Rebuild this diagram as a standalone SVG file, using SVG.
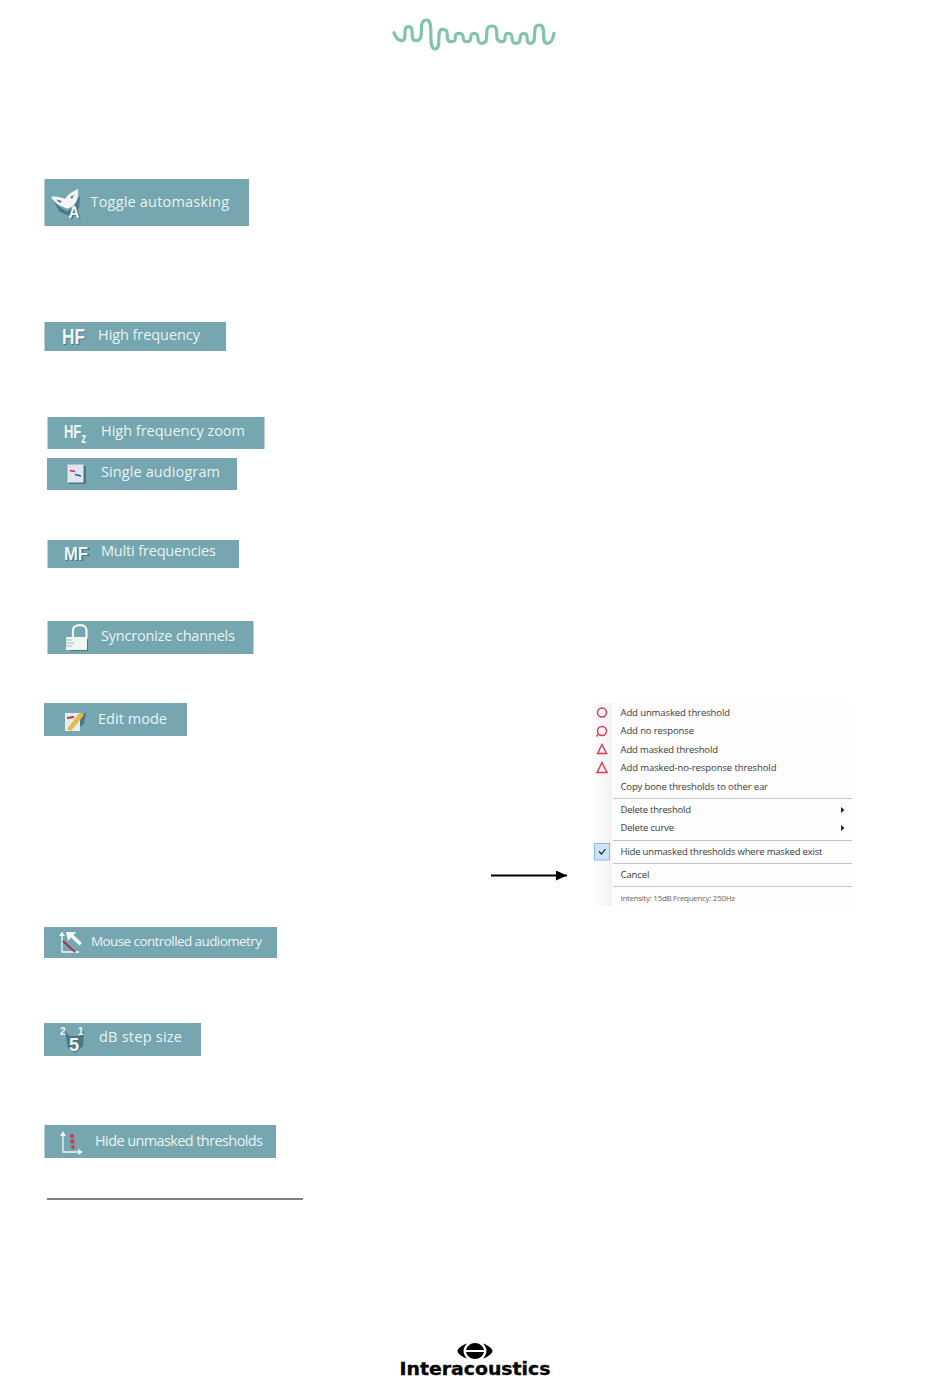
<svg xmlns="http://www.w3.org/2000/svg" width="950" height="1387" viewBox="0 0 950 1387">
<style>
.btn{fill:#76a6af}
.lbl{font-family:"Open Sans","Liberation Sans",sans-serif;font-size:14.5px;fill:#e9f3f3}
.ico{font-family:"Liberation Sans",sans-serif;font-weight:bold;fill:#eef5f5}
.shd{font-family:"Liberation Sans",sans-serif;font-weight:bold;fill:#4d7680}
.mi{font-family:"Open Sans","Liberation Sans",sans-serif;font-size:9.5px;fill:#3a3a3a}
.sep{stroke:#c4c4c4;stroke-width:1}
.red{fill:none;stroke:#e2334f;stroke-width:1.4}
.wht{fill:#f2f6f6}
.dk{fill:#4d7680}
.ax{fill:none;stroke:#f2f6f6;stroke-width:1.3}
</style>
<defs>
<marker id="ah" markerUnits="userSpaceOnUse" markerWidth="11" markerHeight="10" refX="11" refY="5" orient="auto"><path d="M0 0L11 5L0 10Z" fill="#000"/></marker>
<linearGradient id="strip" x1="0" x2="1" y1="0" y2="0"><stop offset="0" stop-color="#fcfcfc"/><stop offset="1" stop-color="#f2f2f2"/></linearGradient>
</defs>
<rect width="950" height="1387" fill="#fff"/>

<g id="logo-wave">
<path d="M394 32.700C396 38 398 40.700 401.700 40.700C408.300 40.700 401.700 26.700 408.300 26.700C416 26.700 408.300 40.700 416 40.700C426.700 40.700 416 20 426.700 20C435 20 426.700 49 435 49C442.700 49 435 29.300 442.700 29.300C451.700 29.300 442.700 41.700 451.700 41.700C459 41.700 451.700 33.300 459 33.300C467.300 33.300 459 41.700 467.300 41.700C474.300 41.700 467.300 33.300 474.300 33.300C481.700 33.300 474.300 43.300 481.700 43.300C491.700 43.300 481.700 26 491.700 26C501.700 26 491.700 41.700 501.700 41.700C508.300 41.700 501.700 33.300 508.300 33.300C516 33.300 508.300 43.300 516 43.300C524.300 43.300 516 33.300 524.300 33.300C530 33.300 524.300 43.300 530 43.300C539.300 43.300 530 25 539.300 25C547.700 25 539.300 43.300 547.700 43.300C551 43.300 553 39 554 33.300" fill="none" stroke="#83c2ad" stroke-width="3.200" stroke-linecap="round"/>
</g>

<g id="toggle-automasking">
<rect class="btn" x="44.500" y="179" width="204.500" height="47"/>
<path class="dk" d="M53 200L60 207L67 212L74 206L80 196L79 208L70 216L60 212Z"/>
<path class="wht" d="M51 197C55 196 60 197 65 199C68 194 73 191 78 189C79 195 77 202 73 206C69 209 66 209 64 207C59 206 54 202 51 197Z"/>
<path class="dk" d="M56 199.500L62 201L60 203ZM70 197L74 195L72 199Z"/>
<text class="shd" x="70" y="219" font-size="17" textLength="11" lengthAdjust="spacingAndGlyphs">A</text>
<text class="ico" x="68.500" y="218" font-size="17" textLength="11" lengthAdjust="spacingAndGlyphs">A</text>
<text class="lbl" x="90.500" y="206.500" textLength="138.500">Toggle automasking</text>
</g>

<g id="high-frequency">
<rect class="btn" x="44.500" y="322" width="181.500" height="29"/>
<text class="shd" x="63" y="345" font-size="22" textLength="23" lengthAdjust="spacingAndGlyphs">HF</text>
<text class="ico" x="62" y="344" font-size="22" textLength="23" lengthAdjust="spacingAndGlyphs">HF</text>
<text class="lbl" x="98" y="339.500" textLength="102">High frequency</text>
</g>

<g id="high-frequency-zoom">
<rect class="btn" x="47.500" y="417" width="217" height="32"/>
<text class="ico" transform="translate(64 438) scale(0.72 1)" font-size="18" font-weight="normal">HF<tspan dy="5" font-size="14" font-weight="bold">z</tspan></text>
<text class="lbl" x="101" y="436" textLength="144">High frequency zoom</text>
</g>

<g id="single-audiogram">
<rect class="btn" x="47" y="458" width="190" height="32"/>
<rect class="dk" x="69" y="466" width="17" height="18"/>
<rect x="67.500" y="464.500" width="16" height="18" fill="#dfe6ee"/>
<path d="M70 470.500L75 471.500" stroke="#c8323c" stroke-width="1.600"/>
<path d="M75 474.500L81 476" stroke="#2c55c0" stroke-width="1.600"/>
<text class="lbl" x="101" y="477" textLength="119">Single audiogram</text>
</g>

<g id="multi-frequencies">
<rect class="btn" x="47.500" y="540" width="191.500" height="28"/>
<text class="shd" x="65" y="561" font-size="19" textLength="25" lengthAdjust="spacingAndGlyphs">MF</text>
<text class="ico" x="64" y="560" font-size="19" textLength="24" lengthAdjust="spacingAndGlyphs">MF</text>
<text class="lbl" x="101" y="556" textLength="115">Multi frequencies</text>
</g>

<g id="syncronize-channels">
<rect class="btn" x="47.500" y="621" width="206" height="33"/>
<path d="M73 638V630C73 624 86 623 86.500 630V639" fill="none" stroke="#f2f6f6" stroke-width="2.200"/>
<rect class="dk" x="70" y="639" width="18" height="12"/>
<rect class="wht" x="66" y="637" width="21" height="13"/>
<path d="M66 640H72M66 643H74M66 646H72" stroke="#9fbcc2"/>
<text class="lbl" x="101" y="641" textLength="134">Syncronize channels</text>
</g>

<g id="edit-mode">
<rect class="btn" x="44" y="703" width="143" height="33"/>
<path class="dk" d="M78 715L86 713L84 724L74 731H68V716Z"/>
<rect x="65" y="713" width="15" height="18" fill="#e8ecef"/>
<path d="M67 718L74 717" stroke="#c8323c" stroke-width="1.800"/>
<path d="M67 729L80 712L84 715L71 731Z" fill="#e6b94f"/>
<text class="lbl" x="98" y="724" textLength="69">Edit mode</text>
</g>

<g id="context-menu">
<rect x="595" y="703" width="257" height="203" fill="#fdfdfd"/>
<rect x="595" y="703" width="17" height="203" fill="url(#strip)"/>
<circle class="red" cx="602" cy="712.500" r="4.500"/>
<circle class="red" cx="602" cy="731" r="4.500"/>
<path class="red" d="M598 734.500L596.500 736.500"/>
<path class="red" d="M602 744.500L606.500 753.500H597.500Z"/>
<path class="red" d="M602 762.500L607 772.500H597Z"/>
<rect x="594.500" y="843.500" width="15" height="16.500" fill="#cde4f7" stroke="#86bbe8"/>
<path d="M599 851.500L601.500 854L605.500 849" fill="none" stroke="#222" stroke-width="1.200"/>
<text class="mi" x="620.500" y="716" textLength="109.500">Add unmasked threshold</text>
<text class="mi" x="620.500" y="734" textLength="73.500">Add no response</text>
<text class="mi" x="620.500" y="752.500" textLength="97.500">Add masked threshold</text>
<text class="mi" x="620.500" y="771" textLength="156">Add masked-no-response threshold</text>
<text class="mi" x="620.500" y="789.500" textLength="147.500">Copy bone thresholds to other ear</text>
<line class="sep" x1="613" y1="798.500" x2="852" y2="798.500"/>
<text class="mi" x="620.500" y="813" textLength="70.500">Delete threshold</text>
<path d="M841 807L844.500 810L841 813Z" fill="#222"/>
<text class="mi" x="620.500" y="831" textLength="53.500">Delete curve</text>
<path d="M841 825L844.500 828L841 831Z" fill="#222"/>
<line class="sep" x1="613" y1="840.500" x2="852" y2="840.500"/>
<text class="mi" x="620.500" y="855" textLength="202">Hide unmasked thresholds where masked exist</text>
<line class="sep" x1="613" y1="863.500" x2="852" y2="863.500"/>
<text class="mi" x="620.500" y="878" textLength="29">Cancel</text>
<line class="sep" x1="613" y1="886.500" x2="852" y2="886.500"/>
<text class="mi" x="620.500" y="901" style="font-size:8px;fill:#6a6a6a" textLength="114.500">Intensity: 15dB Frequency: 250Hz</text>
</g>

<g id="connectors">
<line x1="491" y1="875.500" x2="567" y2="875.500" stroke="#000" stroke-width="2" marker-end="url(#ah)"/>
<line x1="47" y1="1199" x2="303" y2="1199" stroke="#000" stroke-width="1"/>
</g>

<g id="mouse-controlled-audiometry">
<rect class="btn" x="44" y="927" width="233" height="31"/>
<path class="ax" d="M62 934V952H79"/>
<path class="wht" d="M62 931.500L65 936H59Z"/>
<path d="M63 941L75 952" stroke="#a8323c" stroke-width="1.800"/>
<path class="wht" d="M66 932L76 932L73.500 935L82 943L79.500 945.500L71 937.500L68 941Z"/>
<text class="lbl" x="91" y="946" style="font-size:13.500px" textLength="171">Mouse controlled audiometry</text>
</g>

<g id="db-step-size">
<rect class="btn" x="44" y="1023" width="157" height="33"/>
<path class="dk" d="M65 1030L69 1036H80L84 1030L83 1046L75 1053L68 1048Z"/>
<text class="ico" x="69" y="1051" font-size="18">5</text>
<text class="ico" x="60" y="1035" font-size="10">2</text>
<text class="ico" x="78" y="1035" font-size="10">1</text>
<text class="lbl" x="99" y="1042" textLength="83">dB step size</text>
</g>

<g id="hide-unmasked-thresholds">
<rect class="btn" x="44.500" y="1125" width="231.500" height="33"/>
<path class="ax" d="M63 1133V1152H81"/>
<path class="wht" d="M63 1131L66 1136H60Z"/>
<path class="wht" d="M83 1152L78 1149V1155Z"/>
<circle cx="72" cy="1136" r="2.200" fill="#c8405c"/>
<circle cx="72.500" cy="1141.500" r="2.200" fill="#c8405c"/>
<circle cx="73" cy="1147" r="2" fill="#c8405c"/>
<text class="lbl" x="95" y="1145.500" textLength="168">Hide unmasked thresholds</text>
</g>

<g id="logo-interacoustics">
<path d="M467 1343.500C461 1345.500 457.500 1349 457.500 1351C457.500 1353 461 1356.500 467 1358.500C464.500 1356 463.500 1353 463.500 1351C463.500 1349 464.500 1346 467 1343.500Z" fill="#000"/>
<path d="M483 1343.500C489 1345.500 492.500 1349 492.500 1351C492.500 1353 489 1356.500 483 1358.500C485.500 1356 486.500 1353 486.500 1351C486.500 1349 485.500 1346 483 1343.500Z" fill="#000"/>
<path d="M475 1343C470.500 1343 467 1346 466 1350H484C483 1346 479.500 1343 475 1343Z" fill="#000"/>
<path d="M475 1359C470.500 1359 467 1356 466 1352H484C483 1356 479.500 1359 475 1359Z" fill="#000"/>
<text x="399.500" y="1375" font-family="'DejaVu Sans',sans-serif" font-weight="bold" font-size="17" fill="#000" stroke="#000" stroke-width="0.300" textLength="151" lengthAdjust="spacingAndGlyphs">Interacoustics</text>
</g>
</svg>
